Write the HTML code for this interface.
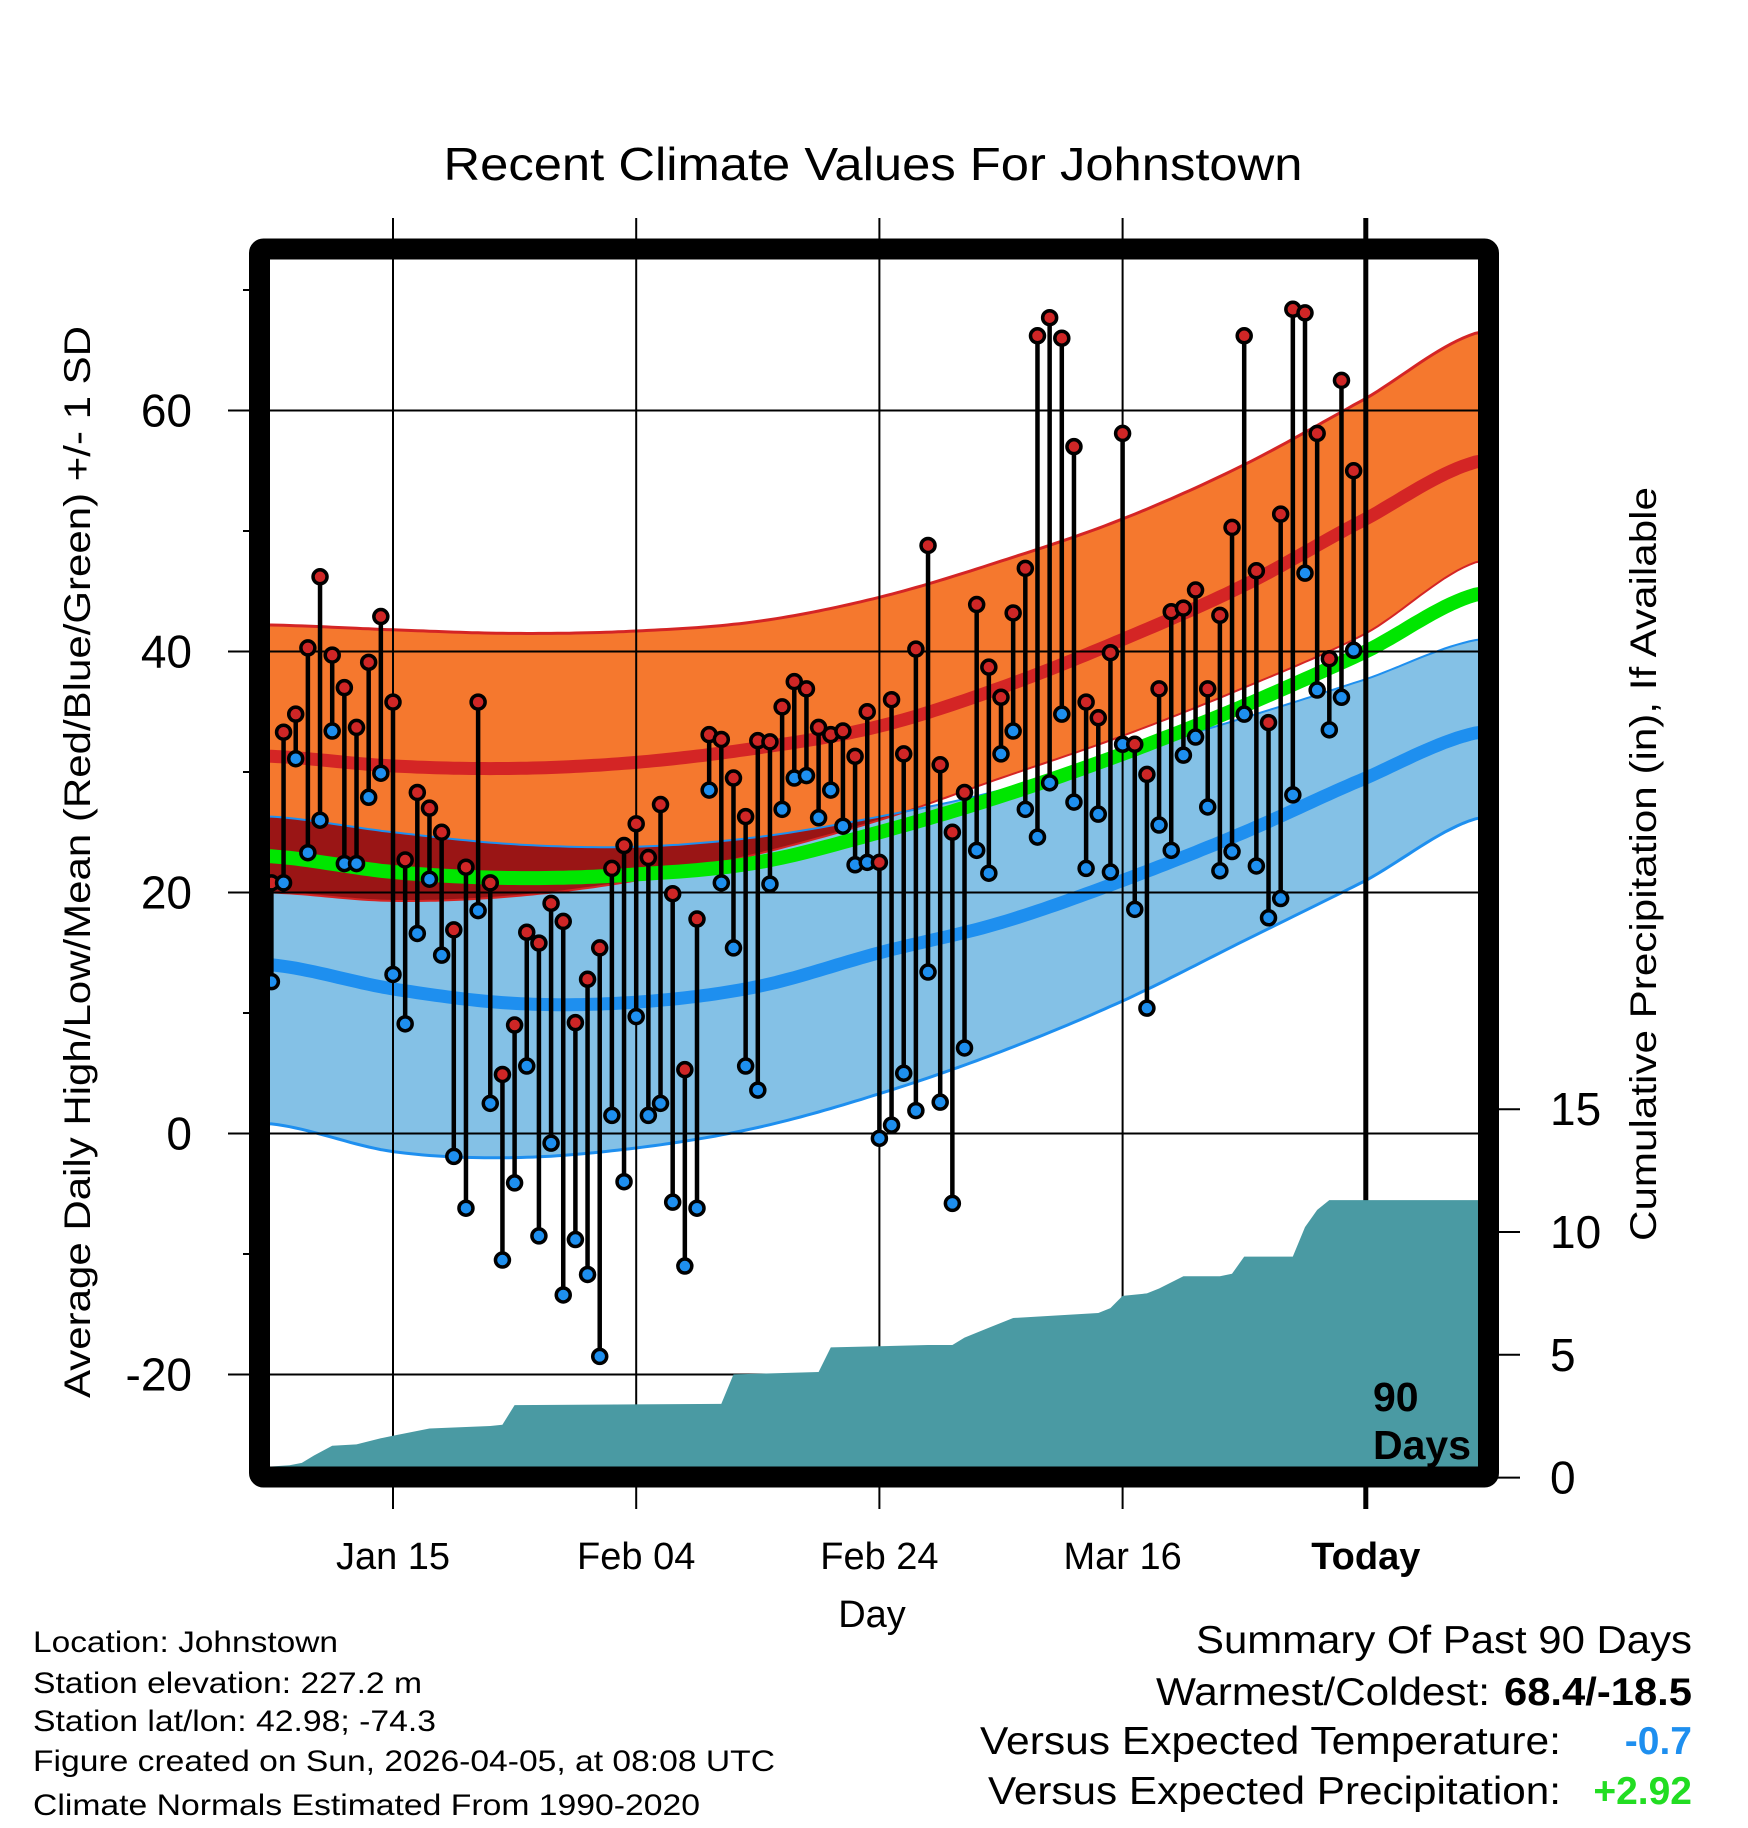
<!DOCTYPE html>
<html><head><meta charset="utf-8"><style>
html,body{margin:0;padding:0;background:#fff}
svg{display:block}
text{font-family:"Liberation Sans",sans-serif;fill:#000}
</style></head><body>
<svg id="chart" width="1748" height="1828" viewBox="0 0 1748 1828" xmlns="http://www.w3.org/2000/svg">
<defs><clipPath id="plotClip"><rect x="270" y="260" width="1208" height="1208"/></clipPath></defs>
<g id="bands" clip-path="url(#plotClip)"></g>
<g id="grid"></g>
<g id="precip" clip-path="url(#plotClip)"></g>
<g id="marks"></g>
<g id="frameG"></g>
<g id="labels">
<text x="873" y="180" font-size="46" text-anchor="middle" textLength="859" lengthAdjust="spacingAndGlyphs">Recent Climate Values For Johnstown</text>
<text transform="translate(90,862) rotate(-90)" font-size="37" text-anchor="middle" textLength="1072" lengthAdjust="spacingAndGlyphs">Average Daily High/Low/Mean (Red/Blue/Green) +/- 1 SD</text>
<text transform="translate(1656,864) rotate(-90)" font-size="37" text-anchor="middle" textLength="754" lengthAdjust="spacingAndGlyphs">Cumulative Precipitation (in), If Available</text>
<text x="872" y="1627" font-size="38" text-anchor="middle">Day</text>
<text x="1373" y="1411" font-size="41" font-weight="bold">90</text>
<text x="1373" y="1459" font-size="41" font-weight="bold">Days</text>
<g font-size="30">
<text x="33" y="1652" textLength="305" lengthAdjust="spacingAndGlyphs">Location: Johnstown</text>
<text x="33" y="1693" textLength="389" lengthAdjust="spacingAndGlyphs">Station elevation: 227.2 m</text>
<text x="33" y="1731" textLength="403" lengthAdjust="spacingAndGlyphs">Station lat/lon: 42.98; -74.3</text>
<text x="33" y="1771" textLength="742" lengthAdjust="spacingAndGlyphs">Figure created on Sun, 2026-04-05, at 08:08 UTC</text>
<text x="33" y="1815" textLength="667" lengthAdjust="spacingAndGlyphs">Climate Normals Estimated From 1990-2020</text>
</g>
<g font-size="39">
<text x="1692" y="1653" text-anchor="end" textLength="496" lengthAdjust="spacingAndGlyphs">Summary Of Past 90 Days</text>
<text x="1156" y="1705" textLength="334" lengthAdjust="spacingAndGlyphs">Warmest/Coldest:</text>
<text x="1692" y="1705" text-anchor="end" font-weight="bold" textLength="188" lengthAdjust="spacingAndGlyphs">68.4/-18.5</text>
<text x="980" y="1754" textLength="581" lengthAdjust="spacingAndGlyphs">Versus Expected Temperature:</text>
<text x="1692" y="1754" text-anchor="end" font-weight="bold" style="fill:#1e8fef">-0.7</text>
<text x="988" y="1804" textLength="573" lengthAdjust="spacingAndGlyphs">Versus Expected Precipitation:</text>
<text x="1692" y="1804" text-anchor="end" font-weight="bold" style="fill:#22dd22">+2.92</text>
</g>
</g>
</svg>
<script>
// ---- data ----
const highs = [20.8,33.3,34.8,40.3,46.2,39.7,37,33.7,39.1,42.9,35.8,22.7,28.3,27,25,16.9,22.1,35.8,20.8,4.9,9,16.7,15.8,19.1,17.6,9.2,12.8,15.4,22,23.9,25.7,22.9,27.3,19.9,5.3,17.8,33.1,32.7,29.5,26.3,32.6,32.5,35.4,37.5,36.9,33.7,33.1,33.4,31.3,35,22.5,36,31.5,40.2,48.8,30.6,25,28.3,43.9,38.7,36.2,43.2,46.9,66.2,67.7,66,57,35.8,34.5,39.9,58.1,32.3,29.8,36.9,43.3,43.6,45.1,36.9,43,50.3,66.2,46.7,34.1,51.4,68.4,68.1,58.1,39.4,62.5,55];
const lows = [12.6,20.8,31.1,23.3,26,33.4,22.4,22.4,27.9,29.9,13.2,9.1,16.6,21.1,14.8,-1.9,-6.2,18.5,2.5,-10.5,-4.1,5.6,-8.5,-0.8,-13.4,-8.8,-11.7,-18.5,1.5,-4,9.7,1.5,2.5,-5.7,-11,-6.2,28.5,20.8,15.4,5.6,3.6,20.7,26.9,29.5,29.7,26.2,28.5,25.5,22.3,22.5,-0.4,0.7,5,1.9,13.4,2.6,-5.8,7.1,23.5,21.6,31.5,33.4,26.9,24.6,29.1,34.8,27.5,22,26.5,21.7,32.3,18.6,10.4,25.6,23.5,31.4,32.9,27.1,21.8,23.4,34.8,22.2,17.9,19.5,28.1,46.5,36.8,33.5,36.2,40.1];
const precipDays = [0,1.5,2.5,3.5,5,7,9,10,13,18,19,20,37,38,45,46,54,56,57,59,61,68,69,70,72,73,75,78,79,80,84,85,86,87,99.3];
const precipVals = [0.45,0.5,0.6,0.9,1.3,1.35,1.6,1.7,2.0,2.1,2.15,2.95,3.0,4.2,4.3,5.3,5.4,5.4,5.7,6.1,6.5,6.7,6.9,7.4,7.5,7.7,8.2,8.2,8.3,9.0,9.0,10.2,10.9,11.3,11.3];
const normDays = [0,10,20,30,40,50,60,70,80,90,99.3];
const highPlus = [42.2,41.8,41.5,41.7,42.5,44.5,47.5,51,55.5,61,66.5];
const highMean = [31.3,30.5,30.3,30.8,32,33.8,37,41,45.5,51,55.8];
const highMinus = [20,19.3,19.7,21,23.2,26,29.5,33,37,41.5,47.5];
const avgMean = [23,21.7,21.2,21.5,22.5,25,28,31.5,35.5,40,44.8];
const lowPlus = [26.3,25,24,23.8,24.6,26.3,28.5,31.5,34.5,37.7,41];
const lowMean = [14,12,10.8,10.9,12.2,15,17.5,21,25,29.5,33.3];
const lowMinus = [0.8,-1.5,-2,-1.2,0.5,3.3,6.8,11,16,21,26.2];
const yTicks = [-20,0,20,40,60];
const yMinor = [-10,10,30,50,70];
const pTicks = [0,5,10,15];
const xTickDays = [10,30,50,70,90];
const xTickLabels = ["Jan 15","Feb 04","Feb 24","Mar 16","Today"];

// ---- axes ----
const NS="http://www.w3.org/2000/svg";
const X = d => 271.4 + 12.16*d;
const Y = v => 1133.5 - 12.05*v;
const P = p => 1477.6 - 24.56*p;
const L = {left:270,right:1478,top:260,bottom:1468};
function mk(tag, attrs, parent){const e=document.createElementNS(NS,tag);for(const k in attrs)e.setAttribute(k,attrs[k]);parent.appendChild(e);return e;}
function interp(xs, ys, d){
  let i=0; while(i<xs.length-2 && d>xs[i+1]) i++;
  const x0=xs[i],x1=xs[i+1]; const t=(d-x0)/(x1-x0);
  const p0=ys[Math.max(i-1,0)],p1=ys[i],p2=ys[i+1],p3=ys[Math.min(i+2,ys.length-1)];
  const t2=t*t,t3=t2*t;
  return 0.5*((2*p1)+(-p0+p2)*t+(2*p0-5*p1+4*p2-p3)*t2+(-p0+3*p1-3*p2+p3)*t3);
}
function curvePts(ys){const pts=[];for(let d=-1;d<=100;d+=0.5)pts.push([X(d),Y(interp(normDays,ys,Math.max(0,Math.min(99.3,d))))]);return pts;}
function lineD(pts){return "M"+pts.map(p=>p[0].toFixed(1)+","+p[1].toFixed(1)).join("L");}
function bandD(a,b){return lineD(a)+"L"+b.slice().reverse().map(p=>p[0].toFixed(1)+","+p[1].toFixed(1)).join("L")+"Z";}

// ---- bands ----
const bands=document.getElementById('bands');
const hp=curvePts(highPlus),hm=curvePts(highMean),hn=curvePts(highMinus),am=curvePts(avgMean),lp=curvePts(lowPlus),lm=curvePts(lowMean),ln=curvePts(lowMinus);
const defs=document.querySelector('defs');
const cp=mk('clipPath',{id:'lowBandClip'},defs);
mk('path',{d:bandD(lp,ln)},cp);
let e;
e=mk('path',{d:bandD(hp,hn),fill:'#f5782e'},bands);


e=mk('path',{d:bandD(lp,ln),fill:'#84c1e6'},bands);


e=mk('path',{d:bandD(hp,hn),fill:'#9a1515','clip-path':'url(#lowBandClip)'},bands);


e=mk('path',{d:lineD(hp),fill:'none',stroke:'#d42525','stroke-width':3},bands);


e=mk('path',{d:lineD(hn),fill:'none',stroke:'#d42525','stroke-width':2},bands);


e=mk('path',{d:lineD(lp),fill:'none',stroke:'#1e8fef','stroke-width':2},bands);


e=mk('path',{d:lineD(ln),fill:'none',stroke:'#1e8fef','stroke-width':3},bands);


e=mk('path',{d:lineD(hm),fill:'none',stroke:'#d42525','stroke-width':13},bands);


e=mk('path',{d:lineD(lm),fill:'none',stroke:'#1e8fef','stroke-width':13},bands);


e=mk('path',{d:lineD(am),fill:'none',stroke:'#00e600','stroke-width':14},bands);



// ---- grid & ticks ----
const grid=document.getElementById('grid');
const lab=document.getElementById('labels');
yTicks.forEach(v=>{
  e=mk('line',{x1:228,x2:L.right,y1:Y(v),y2:Y(v),stroke:'#000','stroke-width':2},grid);
  
  
  e=mk('text',{x:192,y:Y(v)+16,'font-size':46,'text-anchor':'end'},lab);
  e.textContent=String(v);
  
  
});
yMinor.forEach(v=>{
  e=mk('line',{x1:243,x2:252,y1:Y(v),y2:Y(v),stroke:'#000','stroke-width':2},grid);
  
  
});
pTicks.forEach(p=>{
  e=mk('line',{x1:1495,x2:1520,y1:P(p),y2:P(p),stroke:'#000','stroke-width':2},grid);
  
  
  e=mk('text',{x:1550,y:P(p)+16,'font-size':46},lab);
  e.textContent=String(p);
  
  
});
xTickDays.forEach((d,i)=>{
  const today = i===xTickDays.length-1;
  e=mk('line',{x1:X(d),x2:X(d),y1:218,y2:1509,stroke:'#000','stroke-width':today?5:2},grid);
  
  
  e=mk('text',{x:X(d),y:1569,'font-size':38,'text-anchor':'middle','font-weight':today?'bold':'normal'},lab);
  e.textContent=xTickLabels[i];
  
  
});

// ---- precip ----
const pg=document.getElementById('precip');
let pd="M"+(X(precipDays[0])-5)+","+(L.bottom+20);
pd+="L"+(X(precipDays[0])-5).toFixed(1)+","+P(precipVals[0]).toFixed(1);
precipDays.forEach((d,i)=>{pd+="L"+X(d).toFixed(1)+","+P(precipVals[i]).toFixed(1);});
pd+="L"+X(precipDays[precipDays.length-1])+","+(L.bottom+20)+"Z";
e=mk('path',{d:pd,fill:'#4a9aa3'},pg);



// ---- daily marks ----
const mg=document.getElementById('marks');
highs.forEach((h,i)=>{
  const x=X(i);
  e=mk('line',{x1:x,x2:x,y1:Y(h),y2:Y(lows[i]),stroke:'#000','stroke-width':4.5},mg);
  
  
});
highs.forEach((h,i)=>{
  const x=X(i);
  e=mk('circle',{cx:x,cy:Y(lows[i]),r:7,fill:'#1e8fef',stroke:'#000','stroke-width':3.5},mg);
  
  
  e=mk('circle',{cx:x,cy:Y(h),r:7,fill:'#cf2626',stroke:'#000','stroke-width':3.5},mg);
  
  
});

// ---- frame ----
const fg=document.getElementById('frameG');
e=mk('rect',{x:259.5,y:249,width:1229,height:1228,rx:4,fill:'none',stroke:'#000','stroke-width':21},fg);


</script>
</body></html>
